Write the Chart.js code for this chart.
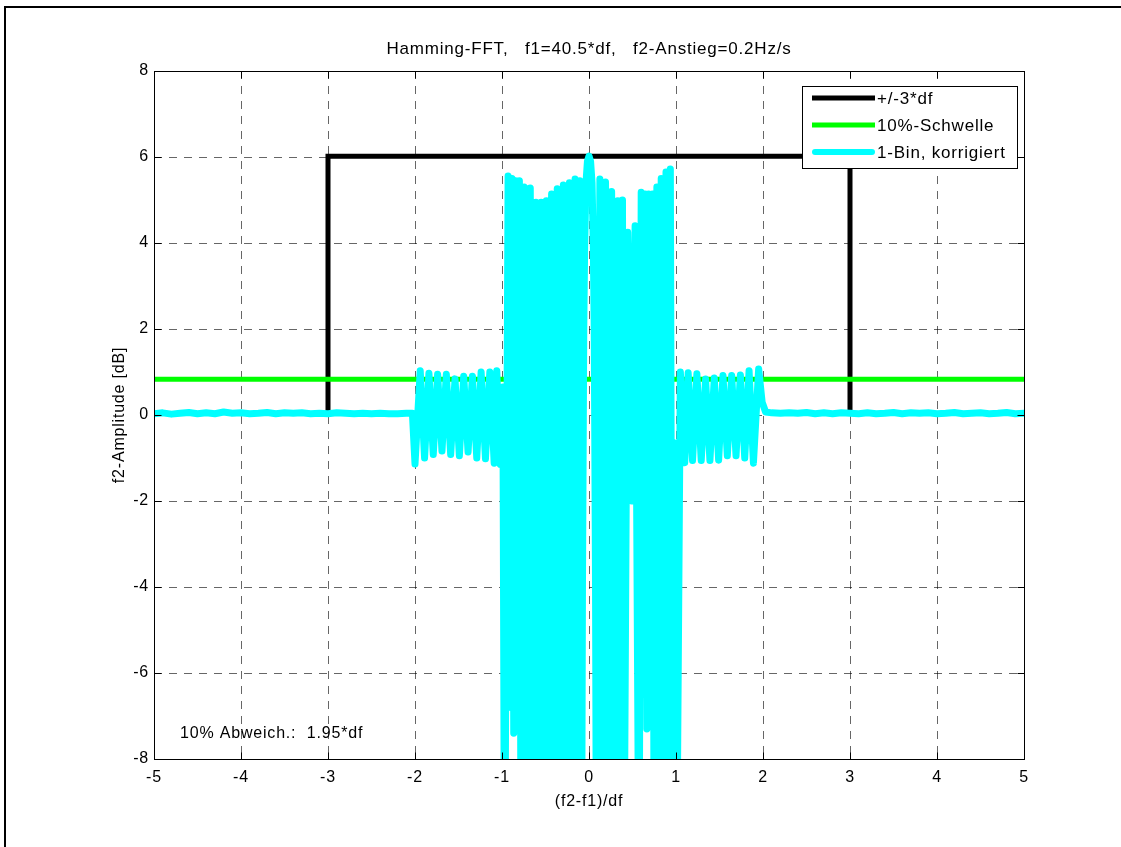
<!DOCTYPE html>
<html>
<head>
<meta charset="utf-8">
<title>Hamming-FFT</title>
<script src="https://cdn.jsdelivr.net/npm/chart.js@4.4.1/dist/chart.umd.min.js"></script>
<style>
  html, body { margin: 0; padding: 0; background: #fff; }
  #wrap { width: 1121px; height: 847px; position: relative; }
  canvas { display: block; }
</style>
</head>
<body>
<div id="wrap"><canvas id="c" width="1121" height="847"></canvas></div>
<script>
// Axis ticks
const xTicks = [-5, -4, -3, -2, -1, 0, 1, 2, 3, 4, 5];
const yTicks = [-8, -6, -4, -2, 0, 2, 4, 6, 8];

// +/-3*df window
const windowX = [-3, -3, 3, 3];
const windowY = [0, 6.02, 6.02, 0];

// 10% threshold
const thresholdX = [-5, 5];
const thresholdY = [0.83, 0.83];

// 1-bin corrected amplitude, (f2-f1)/df vs dB
const binX = [
  -5.00, -4.90, -4.80, -4.70, -4.60, -4.50, -4.40, -4.30, -4.20, -4.10,
  -4.00, -3.90, -3.80, -3.70, -3.60, -3.50, -3.40, -3.30, -3.20, -3.10,
  -3.00, -2.90, -2.80, -2.70, -2.60, -2.50, -2.40, -2.30, -2.20, -2.10, -2.03,
  -2.00, -1.94, -1.89, -1.84, -1.79, -1.74, -1.69, -1.64, -1.59, -1.54,
  -1.49, -1.44, -1.39, -1.34, -1.29, -1.24, -1.19, -1.14, -1.09, -1.06, -1.02,
  -0.99, -0.97, -0.93, -0.90, -0.885, -0.865, -0.845, -0.825, -0.80, -0.78,
  -0.745, -0.71, -0.675, -0.64, -0.61, -0.58, -0.55, -0.52, -0.49, -0.46,
  -0.43, -0.40, -0.365, -0.33, -0.295, -0.26, -0.225, -0.19, -0.16, -0.13, -0.105,
  -0.09, -0.075, -0.06, -0.05, -0.035, -0.018, 0.000, 0.018, 0.035, 0.05, 0.06, 0.075, 0.09,
  0.125, 0.155, 0.19, 0.225, 0.26, 0.295, 0.33, 0.36, 0.385, 0.40,
  0.445, 0.49, 0.53, 0.575, 0.60, 0.625, 0.645, 0.665, 0.685, 0.705, 0.73, 0.75,
  0.78, 0.805, 0.83, 0.855, 0.885, 0.91, 0.935, 0.96, 0.985, 1.015,
  1.05, 1.10, 1.14, 1.19, 1.24, 1.29, 1.34, 1.39, 1.44, 1.49,
  1.54, 1.59, 1.64, 1.69, 1.74, 1.79, 1.84, 1.89, 1.95, 1.99, 2.03,
  2.10, 2.20, 2.30, 2.40, 2.50, 2.60, 2.70, 2.80, 2.90, 3.00,
  3.10, 3.20, 3.30, 3.40, 3.50, 3.60, 3.70, 3.80, 3.90, 4.00,
  4.10, 4.20, 4.30, 4.40, 4.50, 4.60, 4.70, 4.80, 4.90, 5.00
];
const binY = [
  0.03, 0.05, 0.02, 0.04, 0.06, 0.03, 0.05, 0.03, 0.07, 0.04,
  0.05, 0.03, 0.04, 0.06, 0.03, 0.05, 0.04, 0.05, 0.03, 0.04,
  0.03, 0.05, 0.04, 0.03, 0.04, 0.03, 0.04, 0.03, 0.03, 0.04, 0.04,
  -1.14, 1.03, -1.00, 0.97, -0.92, 0.95, -0.84, 0.95, -0.92, 0.84,
  -0.95, 0.90, -0.86, 0.90, -1.00, 1.00, -1.02, 1.00, -1.12, 1.03, -1.15,
  0.65, -12, 5.56, -6.8, 5.50, -7.4, 5.45, -7.0, 5.45, -12,
  5.30, -12, 5.28, -12, 4.95, -12, 4.95, -12, 4.98, -12,
  5.14, -12, 5.26, -12, 5.35, -12, 5.40, -12, 5.49, -12, 5.45,
  -14, -4.0, 2.0, 3.9, 5.4, 5.9, 6.02, 5.9, 5.4, 3.9, 2.0, -4.0, -14,
  5.49, -12, 5.42, -12, 5.20, -12, 4.98, -12, 5.00, -12,
  4.25, -2.0, 4.40, -12, 5.18, -6.5, 5.14, -7.3, 5.14, -6.8, 5.14, -12,
  5.30, -12, 5.50, -12, 5.65, -12, 5.72, -12, -0.65, -9,
  1.00, -1.11, 0.98, -1.06, 0.96, -1.06, 0.84, -1.06, 0.86, -1.05,
  0.92, -0.95, 0.92, -0.95, 0.93, -1.00, 1.03, -1.12, 1.07, 0.30, 0.07,
  0.05, 0.04, 0.05, 0.04, 0.06, 0.03, 0.05, 0.03, 0.05, 0.04,
  0.03, 0.05, 0.03, 0.04, 0.06, 0.03, 0.05, 0.04, 0.05, 0.03,
  0.04, 0.06, 0.03, 0.04, 0.05, 0.03, 0.04, 0.06, 0.03, 0.04
];

const windowLabel = '+/-3*df';
const thresholdLabel = '10%-Schwelle';
const binLabel = '1-Bin, korrigiert';
const titleText = 'Hamming-FFT,   f1=40.5*df,   f2-Anstieg=0.2Hz/s';
const xTitle = '(f2-f1)/df';
const yTitle = 'f2-Amplitude [dB]';
const noteText = '10% Abweich.:  1.95*df';
const notePos = { x: -4.7, y: -7.4 };

const FONT = '"Liberation Sans", Arial, Helvetica, sans-serif';
const SPACING = '0.8px';

const toPoints = (xs, ys) => xs.map((x, i) => ({ x: x, y: ys[i] }));

// Frame, titles, inner ticks, legend and note
const decorations = {
  id: 'decorations',
  beforeDraw(chart) {
    chart.ctx.letterSpacing = SPACING;
  },
  afterDatasetsDraw(chart) {
    const ctx = chart.ctx;
    const a = chart.chartArea;
    const xs = chart.scales.x, ys = chart.scales.y;
    ctx.save();
    ctx.letterSpacing = SPACING;
    // note text
    ctx.fillStyle = '#000';
    ctx.font = '16px ' + FONT;
    ctx.textAlign = 'left';
    ctx.textBaseline = 'middle';
    ctx.fillText(noteText, xs.getPixelForValue(notePos.x), ys.getPixelForValue(notePos.y));
    // axes box
    const L = Math.round(a.left) + 0.5, R = Math.round(a.right) + 0.5;
    const T = Math.round(a.top) + 0.5, B = Math.round(a.bottom) + 0.5;
    ctx.strokeStyle = '#000';
    ctx.lineWidth = 1;
    ctx.setLineDash([]);
    ctx.strokeRect(L, T, R - L, B - T);
    // inward tick marks on all four sides
    const tl = 7;
    ctx.beginPath();
    xTicks.forEach(v => {
      const p = Math.round(xs.getPixelForValue(v)) + 0.5;
      ctx.moveTo(p, B); ctx.lineTo(p, B - tl);
      ctx.moveTo(p, T); ctx.lineTo(p, T + tl);
    });
    yTicks.forEach(v => {
      const p = Math.round(ys.getPixelForValue(v)) + 0.5;
      ctx.moveTo(L, p); ctx.lineTo(L + tl, p);
      ctx.moveTo(R, p); ctx.lineTo(R - tl, p);
    });
    ctx.stroke();
    ctx.restore();
  },
  afterDraw(chart) {
    const ctx = chart.ctx;
    const a = chart.chartArea;
    const cx = (a.left + a.right) / 2;
    ctx.save();
    ctx.letterSpacing = SPACING;
    ctx.fillStyle = '#000';
    // title
    ctx.font = '17px ' + FONT;
    ctx.textAlign = 'center';
    ctx.textBaseline = 'alphabetic';
    ctx.fillText(titleText, cx, 54);
    // axis titles
    ctx.font = '16px ' + FONT;
    ctx.fillText(xTitle, cx, 806);
    ctx.save();
    ctx.translate(124, (a.top + a.bottom) / 2);
    ctx.rotate(-Math.PI / 2);
    ctx.fillText(yTitle, 0, 0);
    ctx.restore();

    // legend
    const box = { x: 802.5, y: 86.5, w: 215, h: 82 };
    ctx.fillStyle = '#fff';
    ctx.fillRect(box.x, box.y, box.w, box.h);
    ctx.strokeStyle = '#000';
    ctx.lineWidth = 1;
    ctx.strokeRect(box.x, box.y, box.w, box.h);
    ctx.font = '17px ' + FONT;
    ctx.textAlign = 'left';
    ctx.textBaseline = 'middle';
    chart.data.datasets.forEach((ds, i) => {
      const y = 98 + i * 27;
      ctx.beginPath();
      ctx.strokeStyle = ds.borderColor;
      ctx.lineWidth = ds.legendWidth;
      ctx.lineCap = ds.borderCapStyle || 'butt';
      const inset = ds.borderCapStyle === 'round' ? ds.legendWidth / 2 : 0;
      ctx.moveTo(812 + inset, y);
      ctx.lineTo(875 - inset, y);
      ctx.stroke();
      ctx.fillStyle = '#000';
      ctx.fillText(ds.label, 877, y + 1);
    });

    // figure frame
    ctx.strokeStyle = '#000';
    ctx.lineWidth = 2;
    ctx.lineCap = 'butt';
    ctx.beginPath();
    ctx.moveTo(5, 847);
    ctx.lineTo(5, 7);
    ctx.lineTo(1121, 7);
    ctx.stroke();
    ctx.restore();
  }
};

const tickFont = { family: FONT, size: 16 };

new Chart(document.getElementById('c').getContext('2d'), {
  type: 'line',
  data: {
    datasets: [
      {
        label: windowLabel,
        data: toPoints(windowX, windowY),
        borderColor: '#000000',
        borderWidth: 5,
        legendWidth: 5,
        order: 3
      },
      {
        label: thresholdLabel,
        data: toPoints(thresholdX, thresholdY),
        borderColor: '#00ff00',
        borderWidth: 5,
        legendWidth: 5,
        order: 2
      },
      {
        label: binLabel,
        data: toPoints(binX, binY),
        borderColor: '#00ffff',
        borderWidth: 7,
        legendWidth: 6,
        borderCapStyle: 'round',
        borderJoinStyle: 'round',
        order: 1
      }
    ]
  },
  options: {
    responsive: false,
    animation: false,
    devicePixelRatio: 1,
    layout: { padding: { left: 0, right: 97, top: 71, bottom: 0 } },
    elements: { point: { radius: 0 }, line: { tension: 0, fill: false } },
    plugins: { legend: { display: false }, tooltip: { enabled: false }, title: { display: false } },
    scales: {
      x: {
        type: 'linear',
        min: -5, max: 5,
        afterBuildTicks: s => { s.ticks = xTicks.map(v => ({ value: v })); },
        afterFit: s => { s.height = 88; },
        grid: { color: 'rgba(0,0,0,0.6)', lineWidth: 1, drawTicks: false },
        border: { display: false, dash: [8, 7] },
        ticks: { color: '#000', font: tickFont, padding: 9, maxRotation: 0, autoSkip: false, callback: v => String(v) }
      },
      y: {
        type: 'linear',
        min: -8, max: 8,
        afterBuildTicks: s => { s.ticks = yTicks.map(v => ({ value: v })); },
        afterFit: s => { s.width = 154; },
        grid: { color: 'rgba(0,0,0,0.6)', lineWidth: 1, drawTicks: false },
        border: { display: false, dash: [8, 7] },
        ticks: { color: '#000', font: tickFont, padding: 5, autoSkip: false, callback: v => String(v) }
      }
    }
  },
  plugins: [decorations]
});
</script>
</body>
</html>
